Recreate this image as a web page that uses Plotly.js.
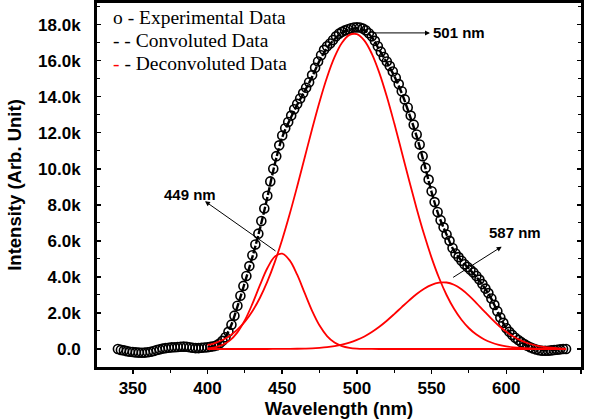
<!DOCTYPE html>
<html>
<head>
<meta charset="utf-8">
<script src="https://cdn.plot.ly/plotly-3.0.1.min.js"></script>
<style>html,body{margin:0;padding:0;background:#fff;}#chart{width:595px;height:419px;}</style>
</head>
<body>
<div id="chart"></div>
<script>
// Experimental data (wavelength nm, intensity in thousands)
const expWavelength = [340,342,344,346,348,350,352,354,356,358,360,362,364,366,368,370,372,374,376,378,380,382,384,386,388,390,392,394,396,398,
400,402,404,406,408,410,412,414,416,418,420,422,424,426,428,430,432,434,436,438,440,442,444,446,448,450,452,454,456,458,
460,462,464,466,468,470,472,474,476,478,480,482,484,486,488,490,492,494,496,498,500,502,504,506,508,510,512,514,516,518,
520,522,524,526,528,530,532,534,536,538,540,542,544,546,548,550,552,554,556,558,560,562,564,566,568,570,572,574,576,578,
580,582,584,586,588,590,592,594,596,598,600,602,604,606,608,610,612,614,616,618,620,622,624,626,628,630,632,634,636,638,640];
const expIntensity = [0.0,-0.05,-0.08,-0.12,-0.15,-0.17,-0.19,-0.2,-0.21,-0.2,-0.18,-0.15,-0.11,-0.06,-0.02,0.02,0.05,0.07,0.09,0.1,0.11,0.12,0.13,0.12,0.1,0.07,0.05,0.05,0.07,0.08,
0.1,0.12,0.15,0.2,0.3,0.45,0.65,0.95,1.35,1.85,2.4,2.95,3.5,4.05,4.6,5.2,5.8,6.4,7.1,7.8,8.5,9.3,10.0,10.7,11.3,11.85,12.25,12.6,12.95,13.3,
13.6,13.9,14.2,14.5,14.8,15.2,15.6,15.95,16.3,16.6,16.8,16.95,17.15,17.35,17.5,17.6,17.68,17.74,17.8,17.84,17.85,17.84,17.78,17.68,17.52,17.35,17.1,16.8,16.5,16.2,
15.95,15.7,15.4,15.05,14.7,14.3,13.85,13.4,12.95,12.45,11.9,11.35,10.7,10.05,9.4,8.75,8.15,7.6,7.15,6.75,6.35,6.0,5.6,5.3,5.1,4.9,4.7,4.55,4.4,4.25,
4.05,3.85,3.6,3.35,3.1,2.8,2.45,2.1,1.75,1.45,1.15,0.95,0.78,0.62,0.5,0.38,0.27,0.18,0.1,0.03,-0.03,-0.07,-0.1,-0.1,-0.1,-0.08,-0.06,-0.04,-0.02,0.0,0.0];

// Fit curves (wavelength nm, intensity in thousands)
const fitWavelength = [400,405,410,415,420,425,430,435,440,445,450,455,460,465,470,475,480,485,490,495,500,505,510,515,520,525,530,535,540,545,550,555,560,565,570,575,580,585,590,595,600,605,610,615,620,625,630,635,640];
const convolutedFit = [0.1,0.17,0.45,1.15,2.35,3.7,5.1,6.65,8.4,10.25,11.75,12.7,13.55,14.3,15.1,16.0,16.7,17.2,17.55,17.72,17.8,17.68,17.3,16.6,15.9,15.15,14.2,13.05,11.8,10.3,8.7,7.35,6.35,5.45,4.9,4.45,4.0,3.45,2.78,1.92,1.15,0.7,0.38,0.14,-0.02,-0.08,-0.07,-0.03,0.0];
const peak449 = [0.036,0.094,0.224,0.478,0.921,1.598,2.501,3.525,4.478,5.126,5.289,4.917,4.120,3.111,2.117,1.298,0.717,0.357,0.160,0.065,0.024,0.008,0.002,0,0,0,0,0,0,0,0,0,0,0,0,0,0,0,0,0,0,0,0,0,0,0,0,0,0];
const peak501 = [0.213,0.330,0.500,0.740,1.071,1.515,2.095,2.830,3.735,4.820,6.076,7.488,9.018,10.614,12.210,13.725,15.082,16.193,16.993,17.428,17.468,17.111,16.380,15.325,14.012,12.521,10.936,9.334,7.786,6.347,5.058,3.938,2.996,2.228,1.619,1.150,0.798,0.542,0.359,0.233,0.147,0.091,0.055,0.033,0.019,0.011,0.006,0.003,0.002];
const peak587 = [0,0,0,0,0,0,0,0,0,0.001,0.003,0.006,0.012,0.022,0.037,0.062,0.099,0.156,0.237,0.349,0.501,0.696,0.941,1.232,1.568,1.937,2.322,2.701,3.052,3.346,3.562,3.680,3.689,3.563,3.312,2.963,2.550,2.112,1.683,1.291,0.953,0.677,0.462,0.304,0.192,0.117,0.069,0.039,0.021];

// Axis ticks
const xTickVals = [350,400,450,500,550,600,650];
const yTickVals = [0,2,4,6,8,10,12,14,16,18];
const yTickText = ['0.0','2.0k','4.0k','6.0k','8.0k','10.0k','12.0k','14.0k','16.0k','18.0k'];

// Labels
const legendLines = ['o - Experimental Data','- - Convoluted Data','<span style="color:#ff0000">-</span> - Deconvoluted Data'];
const peakLabels = ['449 nm','501 nm','587 nm'];

const traces = [
  {x: expWavelength, y: expIntensity, type:'scatter', mode:'markers', name:'Experimental Data',
   marker:{symbol:'circle-open', size:9, color:'#000', line:{width:1.6, color:'#000'}}, showlegend:false},
  {x: fitWavelength, y: convolutedFit, type:'scatter', mode:'lines', name:'Convoluted Data',
   line:{color:'#000', width:2.4, dash:'8px,2px', shape:'spline'}, showlegend:false},
  {x: fitWavelength, y: peak449, type:'scatter', mode:'lines', name:'Deconvoluted 449',
   line:{color:'#ff0000', width:1.8, shape:'spline'}, showlegend:false},
  {x: fitWavelength, y: peak501, type:'scatter', mode:'lines', name:'Deconvoluted 501',
   line:{color:'#ff0000', width:1.8, shape:'spline'}, showlegend:false},
  {x: fitWavelength, y: peak587, type:'scatter', mode:'lines', name:'Deconvoluted 587',
   line:{color:'#ff0000', width:1.8, shape:'spline'}, showlegend:false}
];

const SANS = 'Liberation Sans, Arial, sans-serif';
const tickFont = {family:SANS, size:17, color:'#000', weight:'bold'};
const labelFont = {family:SANS, size:15, color:'#000', weight:'bold'};
const titleFont = {family:SANS, size:18.5, color:'#000', weight:'bold'};
const serifFont = {family:'Liberation Serif, Times New Roman, serif', size:19.5, color:'#000'};

const annotations = [
  {xref:'paper', yref:'paper', x:0.028, y:0.9615, xanchor:'left', yanchor:'middle', text:legendLines[0], showarrow:false, font:serifFont},
  {xref:'paper', yref:'paper', x:0.028, y:0.898, xanchor:'left', yanchor:'middle', text:legendLines[1], showarrow:false, font:serifFont},
  {xref:'paper', yref:'paper', x:0.028, y:0.835, xanchor:'left', yanchor:'middle', text:legendLines[2], showarrow:false, font:serifFont},
  // 449 arrow
  {x:398.3, y:8.2, ax:446.5, ay:5.38, axref:'x', ayref:'y', xref:'x', yref:'y', text:'', showarrow:true,
   arrowhead:2, arrowsize:1, arrowwidth:1, arrowcolor:'#000', standoff:0, startstandoff:0},
  {x:388.2, y:8.55, xref:'x', yref:'y', text:peakLabels[0], showarrow:false, font:labelFont},
  // 501 arrow
  {x:548.9, y:17.54, ax:510.7, ay:17.54, axref:'x', ayref:'y', xref:'x', yref:'y', text:'', showarrow:true,
   arrowhead:2, arrowsize:1, arrowwidth:1, arrowcolor:'#000', standoff:0, startstandoff:0},
  {x:549.4, y:17.54, xref:'x', yref:'y', xanchor:'left', text:peakLabels[1], showarrow:false, font:labelFont},
  // 587 arrow
  {x:596.9, y:5.68, ax:563.4, ay:3.92, axref:'x', ayref:'y', xref:'x', yref:'y', text:'', showarrow:true,
   arrowhead:2, arrowsize:1, arrowwidth:1, arrowcolor:'#000', standoff:0, startstandoff:0},
  {x:605.8, y:6.49, xref:'x', yref:'y', text:peakLabels[2], showarrow:false, font:labelFont}
];

const layout = {
  width:595, height:419,
  margin:{l:97, r:14, t:3, b:52},
  paper_bgcolor:'#fff', plot_bgcolor:'#fff',
  showlegend:false,
  xaxis:{
    range:[326,650], tickvals:xTickVals, ticks:'outside', ticklen:4, tickwidth:1.5, tickcolor:'#000',
    minor:{dtick:25, tick0:350, ticks:'outside', ticklen:3, tickwidth:1, tickcolor:'#000'},
    showline:true, linewidth:3, linecolor:'#000', mirror:'ticks', showgrid:false, zeroline:false,
    tickfont:tickFont, automargin:false,
    title:{text:'Wavelength (nm)', font:titleFont, standoff:0}
  },
  yaxis:{
    range:[-1.0,19.2], tickvals:yTickVals, ticktext:yTickText, ticks:'inside', ticklen:4, tickwidth:1.5, tickcolor:'#000',
    minor:{dtick:1, tick0:0, ticks:'inside', ticklen:3, tickwidth:1, tickcolor:'#000'},
    showline:true, linewidth:3, linecolor:'#000', mirror:'ticks', showgrid:false, zeroline:false,
    tickfont:tickFont, ticklabelstandoff:10, automargin:false,
    title:{text:'Intensity (Arb. Unit)', font:titleFont, standoff:12}
  },
  annotations: annotations
};

Plotly.newPlot('chart', traces, layout, {displayModeBar:false, staticPlot:true});
</script>
</body>
</html>
